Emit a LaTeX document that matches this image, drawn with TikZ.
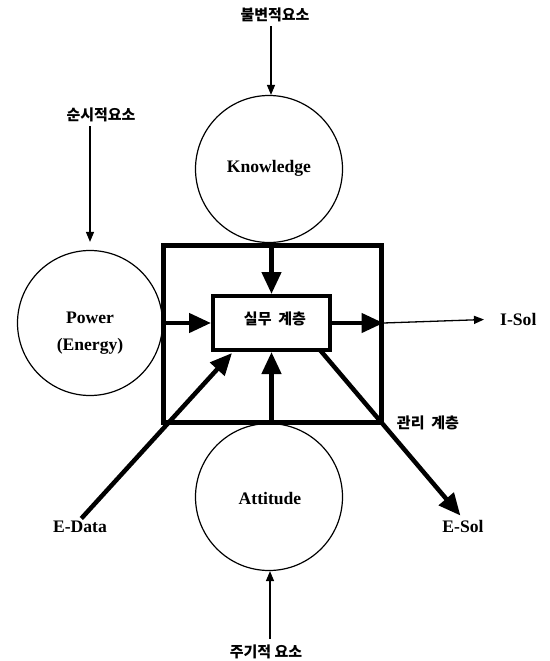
\documentclass[tikz,border=0pt]{standalone}
\usepackage{fontspec}
\setmainfont{Liberation Serif}
\newfontfamily\kr{Noto Sans CJK KR}
\usetikzlibrary{arrows.meta}
\begin{document}
\begin{tikzpicture}[x=1pt,y=-1pt,
  circ/.style={circle,draw,line width=1.2pt,inner sep=0pt,minimum size=#1},
  lat/.style={font=\fontsize{17.6}{19}\selectfont\bfseries,inner sep=1pt},
  kor/.style={font=\kr\bfseries\fontsize{15}{17}\selectfont,inner sep=1pt},
  thinarrow/.style={line width=1.3pt,-{Triangle[length=10pt,width=8pt]}},
  thickarrow/.style={line width=4.5pt,-{Triangle[length=22pt,width=19pt]}}]
\useasboundingbox (0,0) rectangle (549,661);
% circles
\node[circ=147pt] (know) at (269,169) {};
\node[lat] at (269,168) {Knowledge};
\node[circ=145pt] (power) at (90,323) {};
\node[lat,align=center,font=\fontsize{17.6}{27}\selectfont\bfseries] at (90,333) {Power\\(Energy)};
\node[circ=147pt] (att) at (269,497) {};
\node[lat] at (270,498) {Attitude};
% boxes
\node[draw,line width=5pt,minimum width=218pt,minimum height=177pt,inner sep=0pt] (outer) at (272,333.5) {};
\node[draw,fill=white,line width=4pt,minimum width=117pt,minimum height=54pt,inner sep=0pt] (inner) at (271.5,323) {};
\node[kor] at (275,319) {실무\ \ 계층};
% labels
\node[kor] (t1) at (275,15) {불변적요소};
\node[kor] (t2) at (101,115) {순시적요소};
\node[kor] (t3) at (266,652) {주기적 요소};
\node[kor] at (428,423) {관리\ \ 계층};
\node[lat,anchor=west] (isol) at (499,319) {I-Sol};
\node[lat] (edata) at (80,527) {E-Data};
\node[lat] (esol) at (463,526) {E-Sol};
\coordinate (edin) at (232,353);
\coordinate (esout) at (320,350);
% thin arrows
\draw[thinarrow,shorten <=3pt] (t1.south -| 271,0) -- (know.north -| 271,0);
\draw[thinarrow,shorten <=3pt,shorten >=8pt] (power.north |- t2.south) -- (power.north);
\draw[thinarrow,shorten <=5pt] (t3.north -| 270,0) -- (att.south -| 270,0);
% thick arrows
\draw[thickarrow] (know.south -| inner.north) -- (inner.north);
\draw[thickarrow] (power.east) -- (inner.west);
\draw[thickarrow] (att.north -| inner.south) -- (inner.south);
\draw[thickarrow] (inner.east) -- (inner.east -| outer.east);
\draw[thinarrow,shorten >=15pt] (inner.east -| outer.east) -- (isol.west);
\draw[thickarrow,shorten <=2pt] (edata.north) -- (edin);
\draw[thickarrow,shorten >=4pt] (esout) -- (esol.north);
\end{tikzpicture}
\end{document}
